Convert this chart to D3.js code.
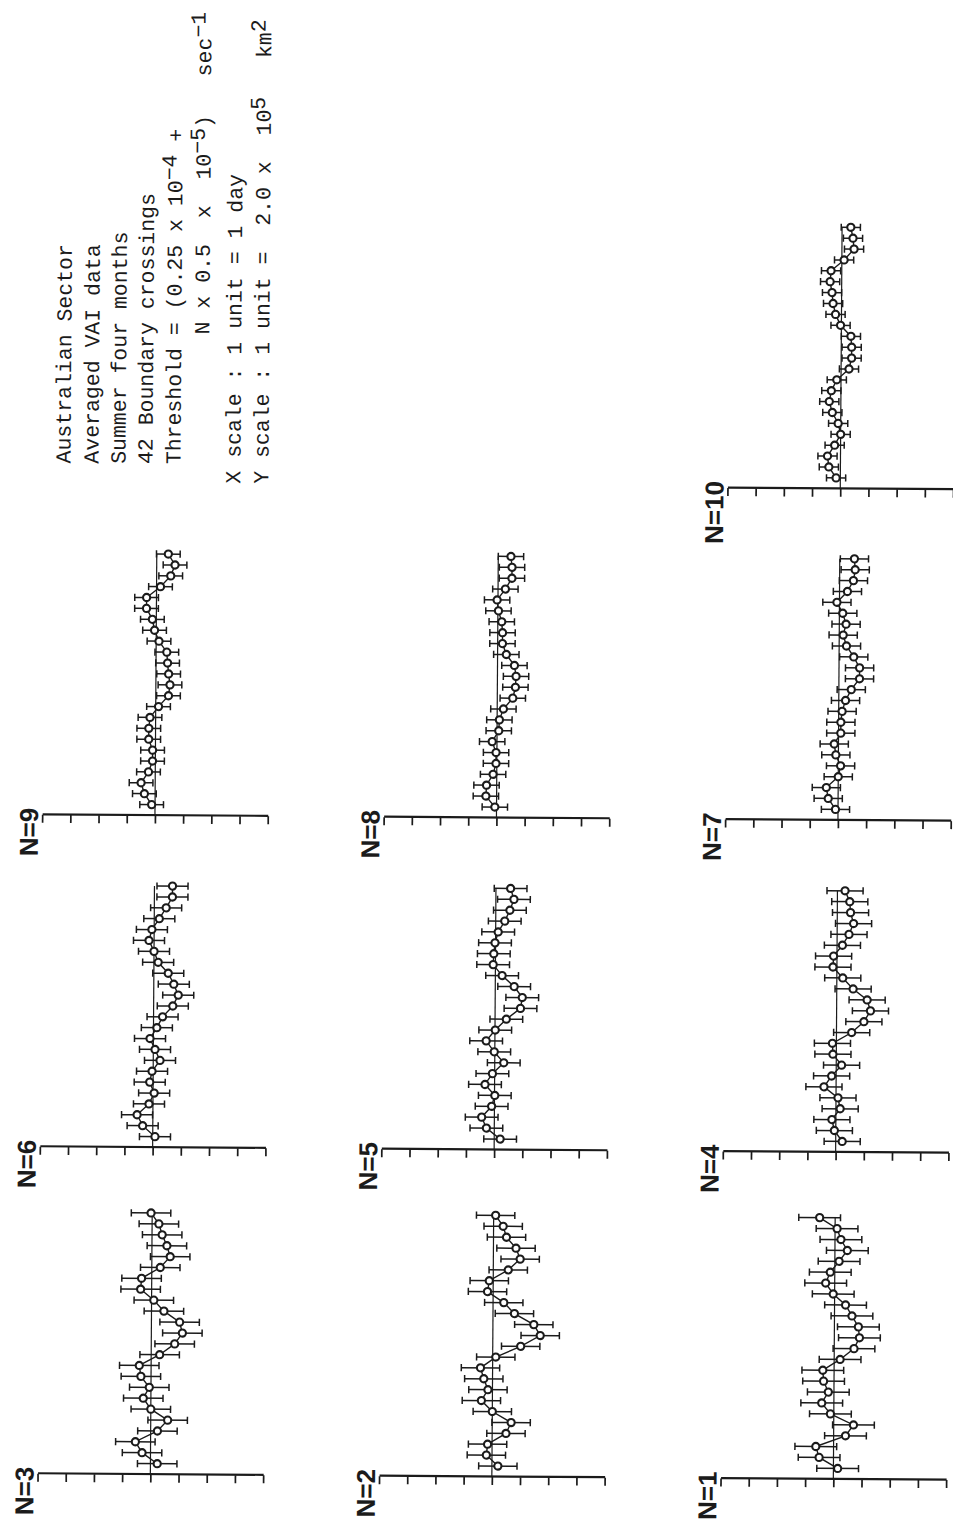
<!DOCTYPE html>
<html>
<head>
<meta charset="utf-8">
<script src="https://cdn.jsdelivr.net/npm/d3@7"></script>
<style>
  html, body { margin: 0; padding: 0; background: #fff; }
  svg { display: block; }
  .note { white-space: pre; }
</style>
</head>
<body>
<svg id="chart" width="953" height="1525"></svg>
<script>
// Superposed-epoch averages of the VAI, one panel per threshold level N.
// Days after the sector boundary crossing (1 unit = 1 day).
const days = [1, 2, 3, 4, 5, 6, 7, 8, 9, 10, 11, 12,
              13, 14, 15, 16, 17, 18, 19, 20, 21, 22, 23, 24];

// Threshold levels, one per panel.
const thresholdN = [1, 2, 3, 4, 5, 6, 7, 8, 9, 10];

// Mean VAI deviation per day (1 unit = 2.0 x 10^5 km2).
const vaiN1  = [-0.15, 0.51, 0.63, -0.42, -0.70, 0.12, 0.43, 0.20, 0.37, 0.40, -0.21, -0.70,
                -0.89, -0.85, -0.62, -0.39, 0.05, 0.32, 0.16, -0.15, -0.44, -0.21, -0.07, 0.55];
const vaiN2  = [-0.21, 0.20, 0.16, -0.49, -0.67, 0.00, 0.39, 0.16, 0.31, 0.43, -0.11, -0.99,
                -1.68, -1.45, -0.76, -0.38, 0.20, 0.14, -0.53, -0.95, -0.80, -0.46, -0.34, -0.07];
const vaiN3  = [-0.24, 0.30, 0.54, -0.24, -0.60, 0.00, 0.27, 0.06, 0.36, 0.42, -0.30, -0.83,
                -1.10, -1.00, -0.44, -0.08, 0.39, 0.36, -0.30, -0.65, -0.53, -0.36, -0.24, 0.04];
const vaiN4  = [-0.23, 0.05, 0.14, -0.15, -0.07, 0.43, 0.16, -0.19, 0.12, 0.14, -0.54, -0.97,
                -1.20, -1.08, -0.58, -0.21, 0.14, 0.12, -0.19, -0.42, -0.58, -0.47, -0.44, -0.27];
const vaiN5  = [-0.21, 0.28, 0.45, 0.10, -0.01, 0.34, 0.08, -0.32, 0.02, 0.31, -0.01, -0.40,
                -0.90, -0.96, -0.67, -0.24, 0.08, 0.06, 0.02, -0.09, -0.32, -0.50, -0.64, -0.52];
const vaiN6  = [-0.08, 0.36, 0.56, 0.14, -0.04, 0.12, 0.04, -0.24, -0.06, 0.12, -0.12, -0.32,
                -0.68, -0.87, -0.71, -0.51, -0.15, 0.00, 0.18, 0.08, -0.18, -0.42, -0.64, -0.64];
const vaiN7  = [0.09, 0.35, 0.42, 0.00, -0.08, 0.09, 0.15, -0.08, -0.08, -0.12, -0.24, -0.44,
                -0.73, -0.73, -0.52, -0.26, -0.14, -0.24, -0.12, 0.09, -0.28, -0.49, -0.55, -0.52];
const vaiN8  = [0.06, 0.38, 0.36, 0.13, 0.03, 0.03, 0.17, -0.06, -0.08, -0.22, -0.55, -0.64,
                -0.66, -0.60, -0.31, -0.17, -0.17, -0.14, -0.02, 0.03, -0.26, -0.49, -0.49, -0.45];
const vaiN9  = [0.12, 0.38, 0.50, 0.24, 0.10, 0.10, 0.24, 0.24, 0.20, -0.10, -0.45, -0.50,
                -0.45, -0.41, -0.38, -0.10, 0.06, 0.14, 0.35, 0.35, -0.14, -0.50, -0.65, -0.41];
const vaiN10 = [0.15, 0.41, 0.46, 0.21, 0.00, 0.09, 0.30, 0.41, 0.34, 0.15, -0.28, -0.37,
                -0.37, -0.34, 0.03, 0.21, 0.30, 0.34, 0.41, 0.38, -0.08, -0.43, -0.39, -0.31];

// Half-length of the error bars for each panel (same units as the VAI).
const errorHalf = [0.74, 0.68, 0.70, 0.64, 0.58, 0.55, 0.50, 0.45, 0.42, 0.34];

// Tick values of the VAI axis.
const valueTicks = [-4, -3, -2, -1, 0, 1, 2, 3, 4];

// Caption block; "sup" marks raised exponents.
const noteLines = [
  [["Australian Sector"]],
  [["Averaged VAI data"]],
  [["Summer four months"]],
  [["42 Boundary crossings"]],
  [["Threshold = (0.25 x 10"], ["\u22124", "sup"], [" +"]],
  [["N x 0.5  x  10"], ["\u22125", "sup"], [")   sec"], ["\u22121", "sup"]],
  [["X scale : 1 unit = 1 day"]],
  [["Y scale : 1 unit =  2.0 x  10"], ["5", "sup"], ["   km"], ["2", "sup"]]
];

const seriesByPanel = [vaiN1, vaiN2, vaiN3, vaiN4, vaiN5, vaiN6, vaiN7, vaiN8, vaiN9, vaiN10];

// ---- layout (drawn in the page's own landscape frame, then turned onto the portrait sheet)
const INK = "#1b1b1b";
const colX = [51.5, 378.5, 710.5, 1042];   // left axis position of each panel column
const rowY = [150, 491.5, 833];            // zero line of each panel row
const dayStep = 10.9;                      // px per day
const unitPx = 28.2;                       // px per VAI unit

const svg = d3.select("#chart");
svg.append("rect").attr("width", 953).attr("height", 1525).attr("fill", "#fff");

const page = svg.append("g")
  .attr("transform", "translate(0,1525) rotate(-90) rotate(0.4)");

thresholdN.forEach((n, i) => {
  const col = Math.floor(i / 3);
  const row = 2 - (i % 3);
  const x0 = colX[col];
  const y0 = rowY[row];

  const x = d3.scaleLinear().domain([0, days[days.length - 1]])
    .range([x0, x0 + days[days.length - 1] * dayStep]);
  const y = d3.scaleLinear().domain([-4, 4])
    .range([y0 + 4 * unitPx, y0 - 4 * unitPx]);

  const pts = days.map((d, k) => ({ t: d, v: seriesByPanel[i][k] }));
  const e = errorHalf[i];

  const g = page.append("g").attr("class", "panel");

  // VAI axis
  const axis = g.append("g")
    .attr("transform", `translate(${x0},0)`)
    .call(d3.axisLeft(y).tickValues(valueTicks).tickSize(8).tickSizeOuter(0).tickFormat(""));
  axis.select(".domain").attr("stroke", INK).attr("stroke-width", 2.2);
  axis.selectAll(".tick line").attr("stroke", INK).attr("stroke-width", 1.7);

  // zero line (day axis)
  g.append("line")
    .attr("x1", x(0)).attr("x2", x(days[days.length - 1]))
    .attr("y1", y(0)).attr("y2", y(0))
    .attr("stroke", INK).attr("stroke-width", 1.2);

  // error bars
  const bars = g.append("g").attr("stroke", INK).attr("stroke-width", 1.5);
  bars.selectAll("line.bar").data(pts).join("line").attr("class", "bar")
    .attr("x1", d => x(d.t)).attr("x2", d => x(d.t))
    .attr("y1", d => y(d.v - e)).attr("y2", d => y(d.v + e));
  [-1, 1].forEach(s => {
    bars.selectAll(`line.cap${s > 0 ? "p" : "m"}`).data(pts).join("line")
      .attr("class", `cap${s > 0 ? "p" : "m"}`)
      .attr("x1", d => x(d.t) - 3.6).attr("x2", d => x(d.t) + 3.6)
      .attr("y1", d => y(d.v + s * e)).attr("y2", d => y(d.v + s * e));
  });

  // connecting line
  g.append("path").datum(pts)
    .attr("fill", "none").attr("stroke", INK).attr("stroke-width", 1.4)
    .attr("d", d3.line().x(d => x(d.t)).y(d => y(d.v)));

  // daily means
  g.selectAll("circle").data(pts).join("circle")
    .attr("cx", d => x(d.t)).attr("cy", d => y(d.v)).attr("r", 3.6)
    .attr("fill", "#fff").attr("stroke", INK).attr("stroke-width", 2.1);

  // panel label
  g.append("text")
    .attr("x", x0 + 7).attr("y", y(4) - 4)
    .attr("text-anchor", "end")
    .attr("font-family", "'Liberation Sans', Arial, sans-serif")
    .attr("font-weight", "bold").attr("font-size", 26)
    .attr("fill", INK)
    .text(`N=${n}`);
});

// caption block
const noteStart = [1062, 1062, 1062, 1062, 1062, 1192, 1043, 1043];
const noteBase = [63, 91, 118, 145, 173, 201, 233, 261];
const notes = page.append("g")
  .attr("font-family", "'Liberation Mono', 'DejaVu Sans Mono', monospace")
  .attr("font-size", 21.5).attr("fill", INK);

noteLines.forEach((segs, li) => {
  const t = notes.append("text")
    .attr("class", "note")
    .attr("xml:space", "preserve")
    .style("white-space", "pre")
    .attr("x", noteStart[li]).attr("y", noteBase[li]);
  let raised = false;
  segs.forEach(([str, kind]) => {
    const sp = t.append("tspan").style("white-space", "pre").text(str);
    if (kind === "sup" && !raised) { sp.attr("dy", -6); raised = true; }
    else if (kind !== "sup" && raised) { sp.attr("dy", 6); raised = false; }
  });
});
</script>
</body>
</html>
